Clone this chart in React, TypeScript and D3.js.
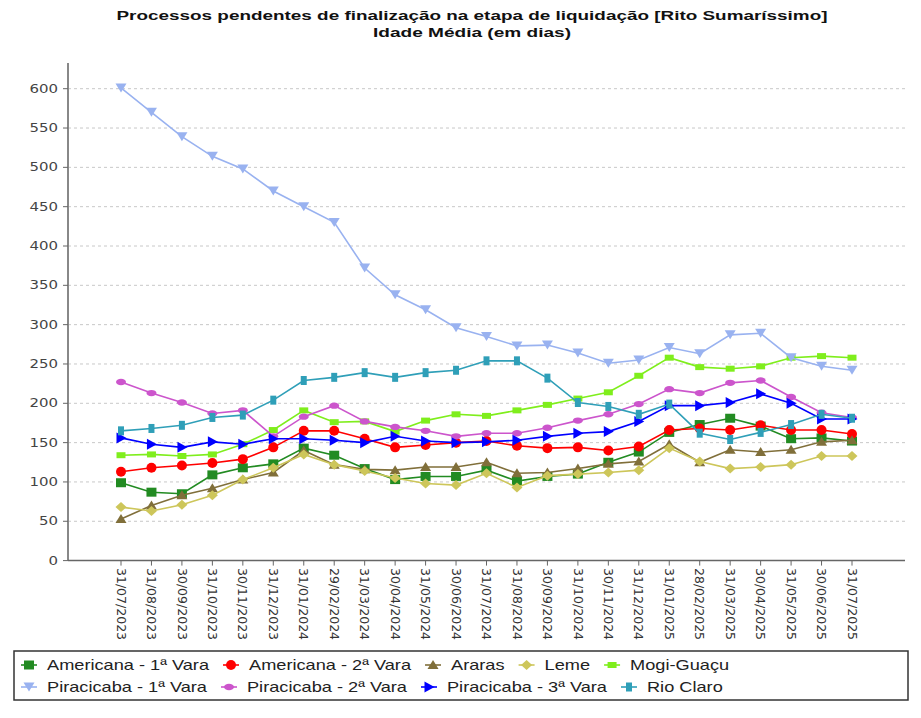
import React, { useEffect, useRef } from 'react';
import * as d3 from 'd3';

const categories = [
  '31/07/2023', '31/08/2023', '30/09/2023', '31/10/2023', '30/11/2023', '31/12/2023',
  '31/01/2024', '29/02/2024', '31/03/2024', '30/04/2024', '31/05/2024', '30/06/2024',
  '31/07/2024', '31/08/2024', '30/09/2024', '31/10/2024', '30/11/2024', '31/12/2024',
  '31/01/2025', '28/02/2025', '31/03/2025', '30/04/2025', '31/05/2025', '30/06/2025',
  '31/07/2025',
];

const americana1 = [99, 87, 85, 109, 118, 123, 143, 134, 117, 103, 107, 107, 115, 101, 107, 110, 125, 138, 163, 173, 181, 171, 155, 156, 152];
const americana2 = [113, 118, 121, 124, 129, 144, 165, 165, 155, 144, 147, 150, 152, 146, 143, 144, 140, 145, 166, 168, 166, 172, 166, 166, 161];
const araras = [53, 70, 83, 92, 103, 112, 140, 122, 116, 115, 119, 119, 125, 111, 112, 117, 123, 126, 148, 125, 141, 138, 141, 151, 153];
const leme = [68, 63, 71, 83, 103, 118, 135, 122, 114, 105, 98, 96, 111, 93, 108, 110, 112, 115, 143, 126, 117, 119, 122, 133, 133];
const mogiGuacu = [134, 135, 133, 135, 148, 166, 191, 176, 177, 164, 178, 186, 184, 191, 198, 206, 214, 235, 258, 246, 244, 247, 258, 260, 258];
const piracicaba1 = [601, 570, 539, 514, 498, 470, 450, 430, 372, 338, 319, 296, 285, 273, 274, 264, 251, 255, 271, 263, 287, 289, 258, 247, 242];
const piracicaba2 = [227, 213, 201, 187, 191, 158, 183, 197, 177, 170, 165, 158, 162, 162, 169, 178, 186, 199, 218, 213, 226, 229, 208, 188, 182];
const piracicaba3 = [156, 148, 144, 151, 148, 155, 155, 153, 150, 158, 152, 150, 151, 153, 158, 162, 164, 177, 197, 197, 201, 212, 200, 180, 180];
const rioClaro = [165, 168, 172, 182, 185, 204, 229, 233, 239, 233, 239, 242, 254, 254, 232, 201, 196, 186, 199, 162, 154, 163, 173, 186, 181];

const seriesNames = [
  'Americana - 1ª Vara', 'Americana - 2ª Vara', 'Araras', 'Leme', 'Mogi-Guaçu',
  'Piracicaba - 1ª Vara', 'Piracicaba - 2ª Vara', 'Piracicaba - 3ª Vara', 'Rio Claro',
];
const seriesValues = [americana1, americana2, araras, leme, mogiGuacu, piracicaba1, piracicaba2, piracicaba3, rioClaro];
const seriesColors = ['#228b22', '#ff0000', '#806f3a', '#cdc65a', '#7fee1c', '#99b2f0', '#cc55cc', '#0000ff', '#2f9fb8'];
const seriesMarkers = ['square', 'circle', 'triUp', 'diamond', 'wideRect', 'triDown', 'ellipse', 'triRight', 'tallRect'];

const yTicks = [0, 50, 100, 150, 200, 250, 300, 350, 400, 450, 500, 550, 600];
const titleLines = ['Processos pendentes de finalização na etapa de liquidação [Rito Sumaríssimo]', 'Idade Média (em dias)'];

const W = 921;
const H = 718;
const SX = 1.3;

function drawMarker(g: any, type: string, color: string) {
  if (type === 'circle') {
    g.append('circle').attr('r', 5).attr('fill', color);
  } else if (type === 'ellipse') {
    g.append('ellipse').attr('rx', 5).attr('ry', 3.2).attr('fill', color);
  } else {
    const paths: Record<string, string> = {
      square: 'M-5,-4.5h10v9h-10z',
      triUp: 'M0,-5L5.5,4L-5.5,4Z',
      diamond: 'M0,-5L5.5,0L0,5L-5.5,0Z',
      wideRect: 'M-4.5,-3h9v6h-9z',
      triDown: 'M0,4.5L5.5,-4.5L-5.5,-4.5Z',
      triRight: 'M5.5,0L-4.5,-5.5L-4.5,5.5Z',
      tallRect: 'M-3,-4.5h6v9h-6z',
    };
    g.append('path').attr('d', paths[type]).attr('fill', color);
  }
}

export default function App() {
  const ref = useRef<SVGSVGElement | null>(null);

  useEffect(() => {
    const svg = d3.select(ref.current);
    svg.selectAll('*').remove();

    const x = d3.scalePoint<string>().domain(categories).range([121, 852]);
    const y = d3.scaleLinear().domain([0, 600]).range([560.6, 88.7]);
    const plotLeft = 68;
    const plotRight = 905;

    // title
    const titleY = [20, 37];
    const titleW = [711, 198];
    titleLines.forEach((t, i) => {
      svg.append('text')
        .attr('x', 472).attr('y', titleY[i])
        .attr('text-anchor', 'middle')
        .attr('font-family', '"Liberation Sans", Arial, sans-serif')
        .attr('font-weight', 'bold')
        .attr('font-size', 13.5)
        .attr('textLength', titleW[i])
        .attr('lengthAdjust', 'spacingAndGlyphs')
        .attr('fill', '#111')
        .text(t);
    });

    // grid
    svg.append('g').selectAll('line').data(yTicks.filter(d => d > 0)).join('line')
      .attr('x1', plotLeft).attr('x2', plotRight)
      .attr('y1', d => y(d)).attr('y2', d => y(d))
      .attr('stroke', '#c8c8c8').attr('stroke-dasharray', '3,3').attr('stroke-width', 1);

    // y axis
    svg.append('line').attr('x1', plotLeft).attr('x2', plotLeft).attr('y1', 63).attr('y2', y(0))
      .attr('stroke', '#888').attr('stroke-width', 2);
    const yt = svg.append('g');
    yTicks.forEach(v => {
      yt.append('line').attr('x1', plotLeft - 5).attr('x2', plotLeft).attr('y1', y(v)).attr('y2', y(v))
        .attr('stroke', '#666');
      yt.append('g').attr('transform', `translate(58,${y(v)}) scale(${SX},1)`)
        .append('text').attr('text-anchor', 'end').attr('dy', '0.35em')
        .attr('font-family', '"DejaVu Sans", Verdana, sans-serif').attr('font-size', 11.5)
        .attr('fill', '#444').text(String(v));
    });

    // x axis
    svg.append('line').attr('x1', plotLeft).attr('x2', plotRight).attr('y1', y(0)).attr('y2', y(0))
      .attr('stroke', '#666').attr('stroke-width', 1.5);
    categories.forEach(c => {
      const cx = x(c) as number;
      svg.append('line').attr('x1', cx).attr('x2', cx).attr('y1', y(0)).attr('y2', y(0) + 5).attr('stroke', '#666');
      svg.append('g').attr('transform', `translate(${cx},568) rotate(90)`)
        .append('text').attr('text-anchor', 'start').attr('dy', '0.35em')
        .attr('font-family', '"DejaVu Sans", Verdana, sans-serif').attr('font-size', 12.5)
        .attr('fill', '#333').text(c);
    });

    // series
    const line = d3.line<number>().x((_, i) => x(categories[i]) as number).y(d => y(d));
    seriesValues.forEach((vals, si) => {
      const g = svg.append('g');
      g.append('path').attr('d', line(vals) as string).attr('fill', 'none')
        .attr('stroke', seriesColors[si]).attr('stroke-width', 1.6);
      vals.forEach((v, i) => {
        const mg = g.append('g').attr('transform', `translate(${x(categories[i])},${y(v)})`);
        drawMarker(mg, seriesMarkers[si], seriesColors[si]);
      });
    });

    // legend
    svg.append('rect').attr('x', 14).attr('y', 651).attr('width', 894).attr('height', 49)
      .attr('fill', 'none').attr('stroke', '#333').attr('stroke-width', 1.5);
    const rows = [[0, 1, 2, 3, 4], [5, 6, 7, 8]];
    const rowY = [665, 687];
    rows.forEach((row, ri) => {
      let cx = 20;
      row.forEach(si => {
        const mx = cx + 9;
        const lg = svg.append('g');
        lg.append('line').attr('x1', mx - 8).attr('x2', mx + 8).attr('y1', rowY[ri]).attr('y2', rowY[ri])
          .attr('stroke', seriesColors[si]).attr('stroke-width', 1.6);
        const mg = lg.append('g').attr('transform', `translate(${mx},${rowY[ri]})`);
        drawMarker(mg, seriesMarkers[si], seriesColors[si]);
        const tx = mx + 18;
        const t = lg.append('g').attr('transform', `translate(${tx},${rowY[ri]}) scale(${SX},1)`)
          .append('text').attr('dy', '0.35em')
          .attr('font-family', '"Liberation Sans", Arial, sans-serif').attr('font-size', 14)
          .attr('fill', '#222').text(seriesNames[si]);
        const w = ((t.node() as SVGTextElement).getComputedTextLength()) * SX;
        cx = tx + w + 13;
      });
    });
  }, []);

  return (
    <svg ref={ref} width={W} height={H} viewBox={`0 0 ${W} ${H}`}
      style={{ position: 'absolute', left: 0, top: 0, display: 'block', background: '#fff' }} />
  );
}
